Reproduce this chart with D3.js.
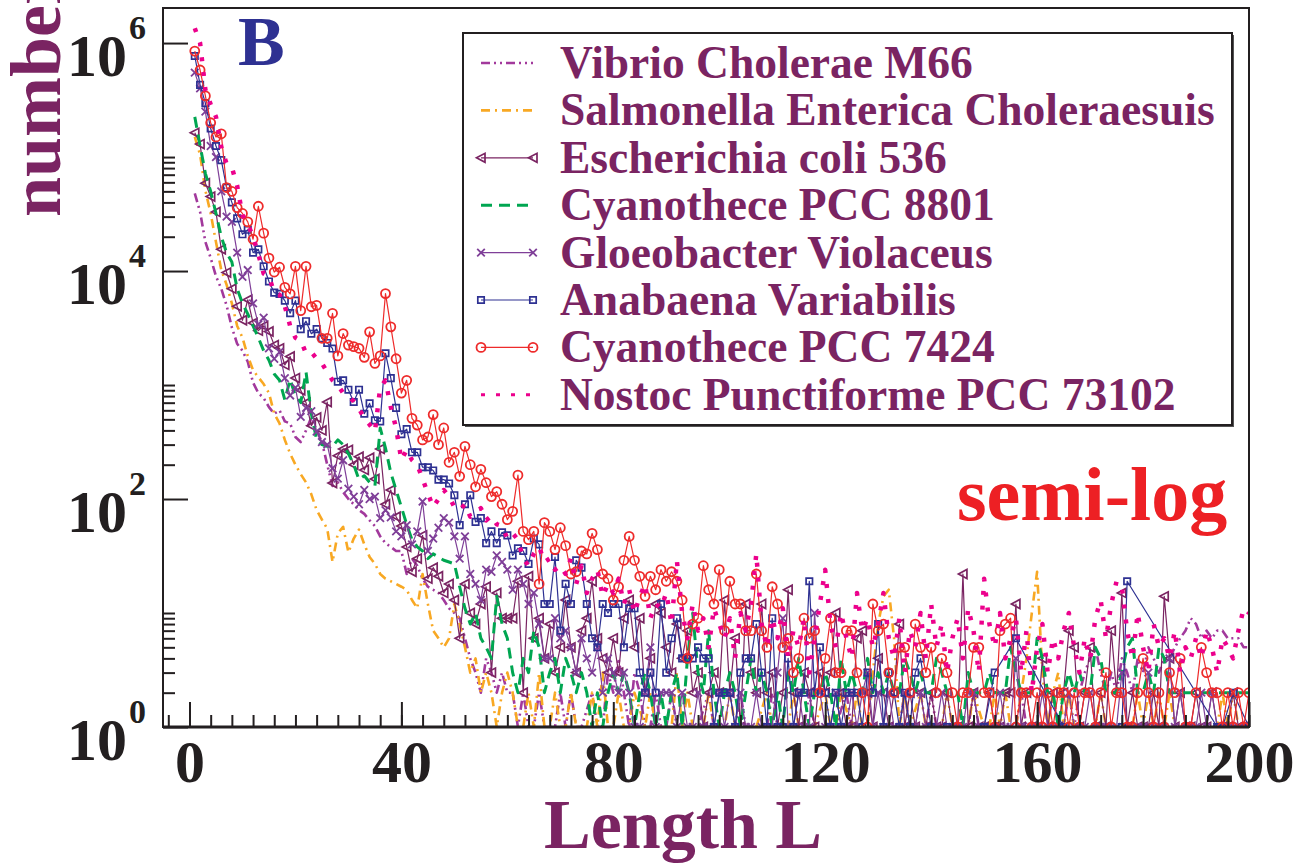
<!DOCTYPE html>
<html>
<head>
<meta charset="utf-8">
<script src="https://cdnjs.cloudflare.com/ajax/libs/d3/7.8.5/d3.min.js"></script>
<style>
body { margin: 0; background: #fff; }
svg { display: block; }
text { font-family: "Liberation Serif", "Times New Roman", serif; font-weight: bold; }
</style>
</head>
<body>
<div id="chart"></div>
<script>
// counts of segments of length L = 1..200 (0 = no segment of that length)
const vibrio = [
  48000, 33000, 18000, 13000, 9000, 7000, 5000, 3200, 2300, 2000,
  1600, 1050, 850, 770, 640, 560, 600, 480, 460, 350,
  316, 400, 520, 400, 316, 200, 130, 140, 115, 100,
  90, 80, 74, 65, 58, 47, 41, 38, 35, 35,
  22, 30, 26, 20, 17, 16, 15, 13, 11, 10,
  9, 6, 4, 3, 2, 4, 3, 2, 3, 2,
  2, 1, 2, 1, 1, 2, 1, 0, 1, 2,
  1, 2, 1, 1, 0, 2, 1, 1, 3, 2,
  4, 2, 1, 3, 2, 1, 1, 2, 1, 1,
  2, 1, 1, 0, 1, 1, 0, 2, 1, 1,
  1, 0, 1, 2, 1, 1, 0, 1, 1, 2,
  1, 0, 1, 1, 0, 1, 2, 1, 0, 1,
  1, 1, 0, 2, 1, 1, 0, 1, 1, 0,
  1, 1, 0, 1, 2, 1, 0, 1, 1, 2,
  1, 0, 1, 1, 1, 0, 1, 2, 1, 1,
  0, 1, 1, 0, 1, 1, 2, 1, 0, 1,
  1, 1, 2, 1, 1, 2, 1, 2, 3, 4,
  5, 3, 2, 3, 2, 4, 3, 2, 4, 3,
  5, 4, 3, 4, 4, 5, 6, 7, 9, 8,
  6, 7, 6, 7, 7, 6, 6, 6, 5, 5
];
const salmonella = [
  150000, 105000, 51000, 32000, 18000, 10200, 7600, 5200, 3300, 2600,
  1800, 1350, 1170, 1020, 850, 560, 460, 330, 250, 200,
  165, 140, 110, 80, 66, 55, 28, 50, 57, 34,
  45, 54, 40, 31, 27, 22, 20, 19, 18, 17,
  16, 13, 11, 22, 12, 7, 6, 5, 6, 12,
  8, 5, 3, 4, 2, 3, 2, 1, 2, 3,
  2, 1, 1, 2, 1, 3, 1, 1, 2, 1,
  1, 2, 1, 0, 1, 2, 1, 3, 1, 1,
  2, 1, 1, 2, 0, 1, 2, 1, 1, 0,
  1, 3, 1, 2, 1, 0, 1, 2, 1, 1,
  1, 2, 1, 1, 0, 1, 1, 0, 2, 1,
  1, 0, 1, 2, 1, 0, 1, 1, 0, 2,
  1, 1, 2, 0, 1, 2, 1, 1, 3, 8,
  14, 16, 6, 1, 2, 1, 0, 2, 1, 1,
  0, 1, 2, 1, 0, 1, 1, 2, 0, 1,
  1, 2, 1, 2, 1, 1, 2, 4, 10, 23,
  3, 1, 2, 3, 1, 2, 1, 1, 0, 1,
  1, 2, 1, 1, 1, 0, 1, 1, 2, 1,
  2, 1, 2, 1, 2, 1, 1, 1, 0, 1,
  1, 0, 1, 1, 2, 1, 2, 1, 0, 1
];
const ecoli = [
  163000, 130000, 59000, 45000, 33000, 15500, 9700, 7000, 4900, 3700,
  5600, 3500, 3000, 3300, 2950, 2240, 2100, 1500, 1780, 1150,
  900, 700, 440, 520, 400, 710, 138, 240, 275, 270,
  200, 235, 180, 230, 150, 275, 90, 120, 70, 58,
  38, 23, 30, 48, 20, 25, 21, 15, 18, 13,
  6, 18, 10, 8, 12, 17, 3, 15, 9, 9,
  9, 19, 2, 21, 6, 9, 4, 8, 3, 5,
  13, 5, 3, 7, 9, 19, 6, 4, 3, 6,
  3, 9, 13, 5, 9, 2, 4, 12, 10, 5,
  3, 8, 4, 7, 2, 3, 1, 2, 3, 2,
  13, 2, 6, 1, 12, 3, 2, 12, 2, 3,
  1, 2, 16, 2, 1, 3, 2, 1, 3, 2,
  3, 10, 2, 1, 1, 6, 7, 2, 1, 4,
  2, 1, 2, 8, 1, 2, 1, 2, 1, 2,
  1, 1, 2, 1, 1, 22, 1, 2, 1, 1,
  2, 1, 1, 2, 2, 12, 1, 2, 1, 1,
  4, 1, 2, 1, 2, 7, 5, 1, 2, 5,
  1, 2, 1, 7, 2, 15, 1, 2, 1, 1,
  1, 2, 1, 14, 4, 1, 2, 1, 1, 2,
  1, 1, 2, 1, 1, 1, 2, 1, 1, 1
];
const cyano8801 = [
  225000, 126000, 72000, 50000, 32000, 20000, 14500, 12000, 7000, 5200,
  4200, 3300, 2600, 2000, 1650, 1250, 1100, 740, 1120, 800,
  700, 1300, 560, 330, 300, 290, 290, 330, 300, 250,
  200, 148, 160, 140, 130, 420, 280, 170, 120, 85,
  60, 44, 38, 35, 30, 33, 31, 29, 28, 27,
  17, 11, 8, 10, 6, 5, 4, 14, 8, 6,
  3, 2, 4, 3, 7, 5, 2, 3, 4, 2,
  4, 3, 2, 3, 2, 1, 2, 1, 2, 3,
  2, 3, 2, 1, 2, 3, 2, 1, 2, 1,
  2, 3, 1, 4, 10, 3, 2, 7, 2, 1,
  2, 3, 2, 1, 2, 4, 2, 3, 2, 1,
  2, 1, 3, 2, 4, 2, 1, 2, 2, 3,
  2, 1, 4, 2, 3, 2, 2, 4, 2, 3,
  2, 3, 2, 2, 4, 3, 2, 3, 2, 2,
  4, 3, 2, 2, 2, 1, 3, 2, 2, 2,
  3, 2, 2, 2, 5, 3, 2, 2, 2, 6,
  4, 2, 2, 1, 2, 3, 2, 3, 2, 2,
  5, 4, 2, 2, 2, 3, 5, 6, 2, 2,
  3, 2, 5, 4, 2, 2, 2, 2, 2, 2,
  2, 2, 2, 2, 2, 2, 2, 2, 2, 2
];
const gloeobacter = [
  550000, 400000, 250000, 125000, 100000, 50000, 30000, 27000, 14500, 8900,
  10200, 5200, 3400, 3900, 2100, 1700, 1950, 1150, 810, 950,
  525, 630, 590, 390, 316, 300, 186, 151, 219, 123,
  105, 90, 120, 100, 105, 68, 80, 69, 52, 47,
  59, 40, 52, 95, 35, 45, 56, 68, 62, 47,
  30, 47, 22, 18, 13, 24, 23, 32, 28, 24,
  16, 24, 18, 12, 15, 8, 4, 4, 9, 6,
  7, 5, 3, 6, 4, 3, 5, 2, 4, 3,
  2, 3, 2, 1, 1, 2, 5, 1, 2, 2,
  2, 1, 2, 1, 1, 2, 1, 1, 1, 2,
  1, 2, 1, 2, 1, 1, 2, 1, 1, 1,
  3, 9, 1, 1, 2, 1, 1, 10, 2, 1,
  1, 2, 1, 1, 2, 1, 2, 3, 1, 2,
  1, 2, 1, 1, 2, 1, 1, 2, 1, 1,
  1, 2, 1, 1, 1, 1, 2, 2, 1, 1,
  1, 1, 2, 1, 1, 4, 1, 1, 1, 1,
  2, 1, 1, 1, 1, 2, 1, 1, 1, 2,
  1, 1, 1, 1, 1, 3, 1, 1, 1, 1,
  3, 1, 1, 1, 4, 1, 2, 1, 1, 1,
  2, 1, 2, 1, 1, 1, 1, 1, 1, 1
];
const anabaena = [
  770000, 430000, 297000, 178000, 125000, 94000, 54000, 40000, 29000, 21000,
  23000, 14500, 15500, 11000, 8100, 6460, 6300, 5500, 4270, 5500,
  3090, 3630, 2820, 3090, 2570, 2340, 2090, 1070, 1100, 910,
  710, 910, 560, 690, 490, 480, 1900, 1150, 630, 370,
  410, 257, 257, 190, 190, 178, 148, 148, 137, 108,
  59, 90, 108, 63, 68, 41, 52, 41, 51, 48,
  32, 37, 35, 27, 45, 40, 12, 12, 31, 7,
  18, 12, 29, 25, 12, 6, 5, 12, 10, 12,
  12, 5, 11, 11, 3, 2, 3, 2, 12, 3,
  6, 9, 4, 4, 4, 5, 4, 4, 1, 2,
  2, 2, 1, 3, 4, 4, 8, 3, 1, 9,
  1, 1, 4, 1, 2, 2, 19, 2, 5, 2,
  1, 2, 1, 2, 2, 2, 1, 3, 2, 8,
  1, 3, 2, 1, 2, 1, 3, 4, 0, 1,
  0, 0, 1, 0, 0, 0, 0, 0, 0, 1,
  0, 3, 0, 0, 0, 6, 0, 0, 0, 0,
  0, 0, 0, 0, 1, 0, 0, 0, 0, 0,
  0, 0, 0, 0, 0, 1, 19, 0, 0, 0,
  0, 0, 0, 0, 0, 0, 0, 0, 0, 0,
  0, 0, 0, 1, 1, 0, 2, 0, 0, 1
];
const cyano7424 = [
  850000, 580000, 344000, 200000, 150000, 160000, 54000, 50000, 36000, 32000,
  27000, 19000, 37000, 21500, 13000, 9800, 10800, 7200, 6300, 11000,
  4500, 11000, 4860, 5000, 2570, 2570, 4260, 1800, 2830, 2240,
  2170, 2100, 1750, 2930, 1550, 1800, 6340, 3240, 1700, 850,
  1100, 510, 445, 330, 350, 550, 300, 420, 210, 257,
  158, 290, 200, 128, 182, 139, 105, 116, 90, 66,
  78, 162, 52, 44, 52, 18, 62, 52, 36, 56,
  39, 22, 23, 35, 33, 50, 36, 22, 20, 13,
  17, 29, 47, 29, 21, 14, 21, 16, 24, 19,
  23, 19, 13, 4, 8, 9, 26, 16, 12, 24,
  7, 19, 12, 12, 7, 7, 22, 7, 5, 17,
  12, 5, 6, 3, 4, 9, 6, 7, 2, 4,
  9, 3, 3, 7, 7, 3, 2, 1, 12, 7,
  8, 3, 2, 5, 5, 2, 8, 5, 3, 5,
  2, 4, 3, 2, 1, 2, 2, 5, 5, 2,
  2, 1, 7, 8, 9, 1, 2, 2, 1, 2,
  1, 2, 1, 2, 2, 1, 2, 1, 2, 2,
  1, 2, 3, 1, 2, 2, 1, 1, 2, 4,
  2, 1, 2, 1, 3, 2, 4, 1, 1, 2,
  5, 3, 2, 2, 1, 2, 1, 2, 1, 2
];
const nostoc = [
  1350000, 1000000, 390000, 290000, 225000, 123000, 87000, 81000, 56000, 31000,
  26000, 20000, 14000, 9500, 8900, 6500, 6200, 4900, 3300, 2600,
  2450, 1900, 1950, 1700, 1550, 1300, 1100, 1000, 850, 800,
  720, 620, 510, 450, 390, 950, 1100, 640, 420, 220,
  270, 220, 200, 150, 112, 85, 100, 120, 105, 85,
  80, 90, 70, 75, 83, 65, 71, 60, 58, 45,
  50, 44, 30, 26, 33, 38, 28, 30, 24, 26,
  22, 30, 18, 26, 15, 20, 24, 14, 18, 15,
  20, 12, 16, 10, 14, 18, 9, 12, 11, 15,
  8, 29, 10, 6, 12, 7, 9, 5, 11, 8,
  6, 9, 4, 10, 7, 12, 33, 8, 5, 9,
  6, 11, 4, 7, 5, 9, 3, 6, 12, 24,
  8, 5, 10, 6, 4, 15, 7, 9, 5, 8,
  15, 6, 4, 9, 3, 7, 5, 10, 4, 12,
  5, 8, 3, 6, 9, 4, 11, 7, 3, 20,
  8, 5, 10, 4, 6, 9, 3, 7, 2, 5,
  8, 3, 6, 4, 7, 10, 5, 3, 6, 4,
  9, 13, 6, 12, 19, 17, 7, 4, 10, 5,
  3, 8, 5, 6, 4, 7, 3, 5, 4, 6,
  4, 7, 5, 3, 6, 5, 4, 7, 11, 10
];

const seriesNames = [
  "Vibrio Cholerae M66",
  "Salmonella Enterica Choleraesuis",
  "Escherichia coli 536",
  "Cyanothece PCC 8801",
  "Gloeobacter Violaceus",
  "Anabaena Variabilis",
  "Cyanothece PCC 7424",
  "Nostoc Punctiforme PCC 73102"
];
const seriesValues = [vibrio, salmonella, ecoli, cyano8801, gloeobacter, anabaena, cyano7424, nostoc];
const xTickLabels = [0, 40, 80, 120, 160, 200];
const yTickValues = [1, 1e2, 1e4, 1e6];
const yTickExponents = ["0", "2", "4", "6"];

// styles per set, same order as the legend
const styles = [
  { color: "#a2399c", width: 2.6, dash: "9,4,2,4,2,4", marker: null },
  { color: "#f8a823", width: 2.6, dash: "9,5,2,5", marker: null },
  { color: "#7a2462", width: 1.2, dash: null, marker: "triangle" },
  { color: "#00a651", width: 3, dash: "11,7", marker: null },
  { color: "#7f3f98", width: 1.2, dash: null, marker: "x" },
  { color: "#2e3192", width: 1.2, dash: null, marker: "square" },
  { color: "#ee2b2b", width: 1.2, dash: null, marker: "circle" },
  { color: "#ec008c", width: 4.5, dash: "4,11", marker: null }
];

const W = 1306, H = 863;
const plotLeft = 163, plotRight = 1249, plotTop = 8, plotBottom = 727;
const ink = "#231f20";
const labelColor = "#7a2462";

const svg = d3.select("#chart").append("svg")
  .attr("width", W)
  .attr("height", H);

const x = d3.scaleLinear().domain([-5, 200]).range([plotLeft, plotRight]);
const y = d3.scaleLog().domain([1, 2.03e6]).range([plotBottom, plotTop]);

svg.append("clipPath").attr("id", "plot")
  .append("rect")
  .attr("x", plotLeft).attr("y", plotTop)
  .attr("width", plotRight - plotLeft).attr("height", plotBottom - plotTop);

// markers
function markerPath(type) {
  if (type === "triangle") return "M-4.5,0L4,-4.5L4,4.5Z";
  if (type === "x") return "M-3.8,-3.8L3.8,3.8M-3.8,3.8L3.8,-3.8";
  if (type === "square") return "M-3.2,-3.2H3.2V3.2H-3.2Z";
  return null;
}
function drawMarker(g, type, color, cx, cy) {
  if (type === "circle") {
    g.append("circle").attr("cx", cx).attr("cy", cy).attr("r", 4.5)
      .attr("fill", "none").attr("stroke", color).attr("stroke-width", 1.8);
  } else {
    g.append("path").attr("d", markerPath(type))
      .attr("transform", `translate(${cx},${cy})`)
      .attr("fill", "none").attr("stroke", color)
      .attr("stroke-width", type === "x" ? 1.8 : 1.7);
  }
}

// data lines
const plot = svg.append("g").attr("clip-path", "url(#plot)");
const line = d3.line().x(d => x(d.L)).y(d => y(d.n));

seriesValues.forEach((vals, i) => {
  const st = styles[i];
  const pts = vals.map((n, k) => ({ L: k + 1, n: n })).filter(d => d.n > 0);
  plot.append("path")
    .datum(pts)
    .attr("d", line)
    .attr("fill", "none")
    .attr("stroke", st.color)
    .attr("stroke-width", st.width)
    .attr("stroke-dasharray", st.dash)
    .attr("stroke-linejoin", "round");
  if (st.marker) {
    const mg = plot.append("g");
    pts.forEach(d => drawMarker(mg, st.marker, st.color, x(d.L), y(d.n)));
  }
});

// frame
svg.append("rect")
  .attr("x", plotLeft).attr("y", plotTop)
  .attr("width", plotRight - plotLeft).attr("height", plotBottom - plotTop)
  .attr("fill", "none").attr("stroke", ink).attr("stroke-width", 2);
svg.append("line")
  .attr("x1", plotLeft).attr("x2", plotRight).attr("y1", plotBottom).attr("y2", plotBottom)
  .attr("stroke", ink).attr("stroke-width", 3);

// x axis ticks (inside)
const xMinor = d3.axisBottom(x).tickValues(d3.range(-4, 201, 4)).tickSize(-12).tickFormat("");
svg.append("g").attr("transform", `translate(0,${plotBottom})`).call(xMinor)
  .call(g => g.select(".domain").remove())
  .call(g => g.selectAll("line").attr("stroke", ink).attr("stroke-width", 2));

const xMajor = d3.axisBottom(x).tickValues(xTickLabels).tickSize(-25).tickPadding(12);
svg.append("g").attr("transform", `translate(0,${plotBottom})`).call(xMajor)
  .call(g => g.select(".domain").remove())
  .call(g => g.selectAll("line").attr("stroke", ink).attr("stroke-width", 2))
  .call(g => g.selectAll("text")
    .attr("fill", ink)
    .style("font-size", "60px")
    .style("font-family", '"Liberation Serif", serif')
    .style("font-weight", "bold"));

// y axis ticks (inside)
const yMinorValues = [];
[0, 2, 4].forEach(e => { for (let k = 2; k <= 10; k++) yMinorValues.push(k * Math.pow(10, e)); });
const yMinor = d3.axisLeft(y).tickValues(yMinorValues).tickSize(-12).tickFormat("");
svg.append("g").attr("transform", `translate(${plotLeft},0)`).call(yMinor)
  .call(g => g.select(".domain").remove())
  .call(g => g.selectAll("line").attr("stroke", ink).attr("stroke-width", 2));

const yMajor = d3.axisLeft(y).tickValues(yTickValues).tickSize(-25).tickFormat("");
svg.append("g").attr("transform", `translate(${plotLeft},0)`).call(yMajor)
  .call(g => g.select(".domain").remove())
  .call(g => g.selectAll("line").attr("stroke", ink).attr("stroke-width", 2));

// y tick labels 10^n
yTickValues.forEach((v, i) => {
  svg.append("text")
    .attr("x", 127).attr("y", y(v) + 33)
    .attr("text-anchor", "end")
    .attr("fill", ink)
    .style("font-size", "60px")
    .text("10");
  svg.append("text")
    .attr("x", 129).attr("y", y(v) - 4)
    .attr("fill", ink)
    .style("font-size", "34px")
    .text(yTickExponents[i]);
});

// axis titles
svg.append("text")
  .attr("x", 683).attr("y", 848)
  .attr("text-anchor", "middle")
  .attr("fill", labelColor)
  .style("font-size", "70px")
  .text("Length L");

svg.append("text")
  .attr("transform", "translate(60,217) rotate(-90)")
  .attr("fill", labelColor)
  .style("font-size", "72px")
  .text("number");

// panel letters
svg.append("text")
  .attr("x", 238).attr("y", 65)
  .attr("fill", "#2e3192")
  .style("font-size", "70px")
  .text("B");

svg.append("text")
  .attr("x", 957).attr("y", 520)
  .attr("fill", "#ed2024")
  .style("font-size", "76px")
  .text("semi-log");

// legend
const legend = svg.append("g");
legend.append("rect")
  .attr("x", 465).attr("y", 35).attr("width", 769).attr("height", 392)
  .attr("fill", "#555");
legend.append("rect")
  .attr("x", 463).attr("y", 33).attr("width", 769).attr("height", 392)
  .attr("fill", "#fff").attr("stroke", ink).attr("stroke-width", 2);

seriesNames.forEach((name, i) => {
  const st = styles[i];
  const base = 78 + i * 47.4;
  const ly = base - 15;
  legend.append("line")
    .attr("x1", 481).attr("x2", 533).attr("y1", ly).attr("y2", ly)
    .attr("stroke", st.color)
    .attr("stroke-width", Math.min(st.width, 3))
    .attr("stroke-dasharray", st.dash);
  if (st.marker) {
    drawMarker(legend, st.marker, st.color, 481, ly);
    drawMarker(legend, st.marker, st.color, 533, ly);
  }
  legend.append("text")
    .attr("x", 560).attr("y", base)
    .attr("fill", labelColor)
    .style("font-size", "45.5px")
    .text(name);
});
</script>
</body>
</html>
